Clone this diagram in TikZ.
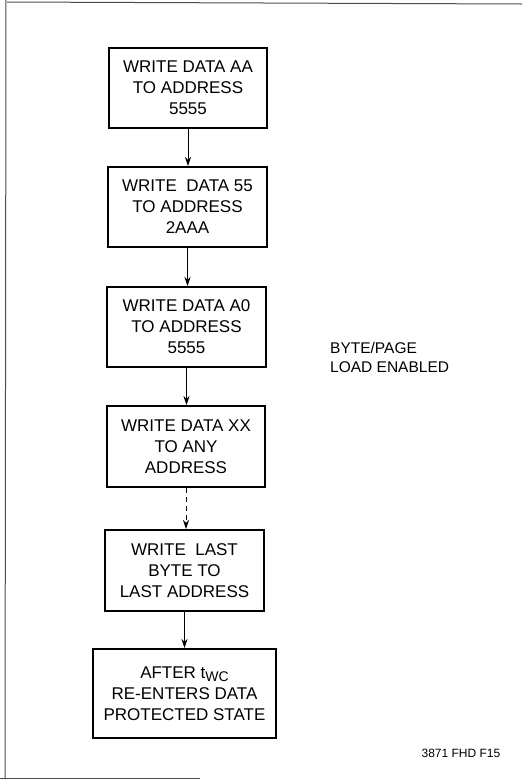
\documentclass[tikz,border=0pt]{standalone}
\usepackage{fontspec}
\setmainfont{Liberation Sans}
\usetikzlibrary{arrows.meta}
\begin{document}
\begin{tikzpicture}[x=1pt,y=-1pt,
  stepbox/.style={draw=black, line width=2pt, minimum width=#1, inner sep=0pt, align=center,
    font=\fontsize{17}{21}\selectfont},
  flow/.style={line width=1pt, -{Stealth[length=9pt,width=6pt]}},
  border/.style={draw=black!70, line width=1pt}]
\useasboundingbox (0,0) rectangle (522,780);
\draw[border] (7,2) -- (522,4);
\draw[border] (6,0) -- (5,779);
\draw[border] (0,778.5) -- (200,778.5);

\node[stepbox=158pt, minimum height=80pt] (b1) at (188,88) {WRITE DATA AA\\TO ADDRESS\\5555};
\node[stepbox=159pt, minimum height=80pt] (b2) at (187.5,207) {WRITE\ \ DATA 55\\TO ADDRESS\\2AAA};
\node[stepbox=159pt, minimum height=80pt] (b3) at (186.5,327) {WRITE DATA A0\\TO ADDRESS\\5555};
\node[stepbox=158pt, minimum height=81pt] (b4) at (186,446.5) {WRITE DATA XX\\TO ANY\\ADDRESS};
\node[stepbox=159pt, minimum height=81pt] (b5) at (184.5,570.5) {WRITE\ \ LAST\\BYTE TO\\LAST ADDRESS};
\node[stepbox=183pt, minimum height=89pt] (b6) at (184.5,693.5) {AFTER t\raisebox{-0.35ex}{\fontsize{14}{14}\selectfont WC}\\RE-ENTERS DATA\\PROTECTED STATE};

\draw[flow] (b1.south) -- (b1.south |- b2.north);
\draw[flow] (b2.south) -- (b2.south |- b3.north);
\draw[flow] (b3.south) -- (b3.south |- b4.north);
\draw[flow, dashed, dash pattern=on 5pt off 4pt] (b4.south) -- (b4.south |- b5.north);
\draw[flow] (b5.south) -- (b5.south |- b6.north);

\node[anchor=west, align=left, inner sep=0pt, font=\fontsize{15.5}{19.5}\selectfont] (lbl) at (330,357.5) {BYTE/PAGE\\LOAD ENABLED};
\node[inner sep=0pt, font=\fontsize{12}{14}\selectfont] (fig) at (461,753) {3871 FHD F15};
\end{tikzpicture}
\end{document}
